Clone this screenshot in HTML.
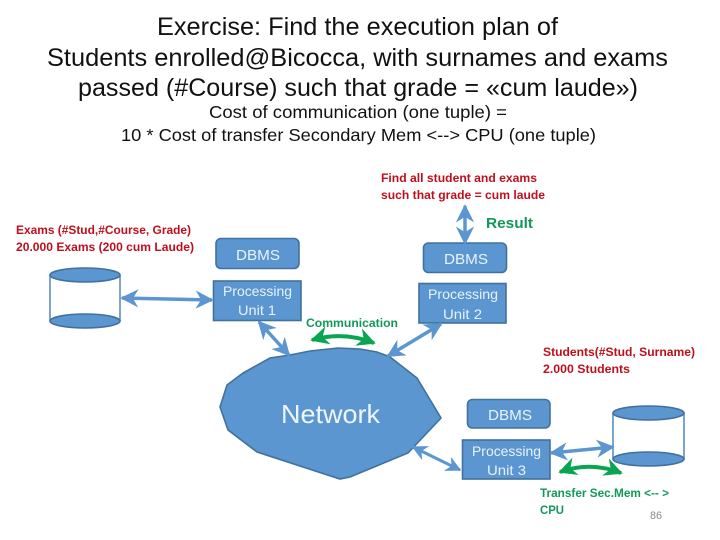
<!DOCTYPE html>
<html><head><meta charset="utf-8"><style>
html,body{margin:0;padding:0;background:#fff}
svg{display:block}
text{font-family:"Liberation Sans",sans-serif}
.t{font-size:25px;fill:#111}
.s{font-size:17.5px;fill:#111}
.r{font-size:12px;font-weight:bold;fill:#c00f1c}
.g{font-size:12px;font-weight:bold;fill:#12995a}
.w{fill:#e8f2fa;font-size:15px}
.box{fill:#5b96d0;stroke:#41719c;stroke-width:1.6}
.ar{stroke:#5b96d0;stroke-width:3.5;fill:none}
.gr{stroke:#0aa550;stroke-width:4;fill:none}
</style></head><body>
<svg width="720" height="540" viewBox="0 0 720 540" xmlns="http://www.w3.org/2000/svg">
<defs>
<marker id="b" viewBox="0 0 10 10" refX="9" refY="5" markerWidth="5.2" markerHeight="5.2" orient="auto-start-reverse" markerUnits="strokeWidth"><path d="M0,0 L10,5 L0,10 L3,5 Z" fill="#5b96d0"/></marker>
<marker id="g" viewBox="0 0 10 10" refX="9" refY="5" markerWidth="4.6" markerHeight="4.6" orient="auto-start-reverse" markerUnits="strokeWidth"><path d="M0,0 L10,5 L0,10 L3,5 Z" fill="#0aa550"/></marker>
</defs>

<text class="t" x="157" y="35" textLength="401" lengthAdjust="spacingAndGlyphs">Exercise: Find the execution plan of</text>
<text class="t" x="47" y="66" textLength="621" lengthAdjust="spacingAndGlyphs">Students enrolled@Bicocca, with surnames and exams</text>
<text class="t" x="78" y="96" textLength="560" lengthAdjust="spacingAndGlyphs">passed (#Course) such that grade = «cum laude»)</text>
<text class="s" x="209" y="118" textLength="298" lengthAdjust="spacingAndGlyphs">Cost of communication (one tuple) =</text>
<text class="s" x="121" y="141" textLength="475" lengthAdjust="spacingAndGlyphs">10 * Cost of  transfer Secondary Mem &lt;--&gt; CPU (one tuple)</text>

<text class="r" x="381" y="182" textLength="156" lengthAdjust="spacingAndGlyphs">Find all student and exams</text>
<text class="r" x="381" y="199" textLength="164" lengthAdjust="spacingAndGlyphs">such that grade = cum laude</text>
<text class="r" x="16" y="234" textLength="175" lengthAdjust="spacingAndGlyphs">Exams (#Stud,#Course, Grade)</text>
<text class="r" x="16" y="251" textLength="178" lengthAdjust="spacingAndGlyphs">20.000 Exams (200 cum Laude)</text>
<text class="r" x="543" y="356" textLength="152" lengthAdjust="spacingAndGlyphs">Students(#Stud, Surname)</text>
<text class="r" x="543" y="373" textLength="87" lengthAdjust="spacingAndGlyphs">2.000 Students</text>

<text class="g" x="486" y="228" style="font-size:14.5px" textLength="47" lengthAdjust="spacingAndGlyphs">Result</text>
<text class="g" x="306" y="327" textLength="92" lengthAdjust="spacingAndGlyphs">Communication</text>
<text class="g" x="540" y="497" textLength="129" lengthAdjust="spacingAndGlyphs">Transfer Sec.Mem &lt;-- &gt;</text>
<text class="g" x="540" y="514" textLength="24" lengthAdjust="spacingAndGlyphs">CPU</text>
<text x="650" y="519" style="font-size:11px;fill:#8a8a8a" textLength="12" lengthAdjust="spacingAndGlyphs">86</text>

<!-- Cylinder 1 -->
<path d="M50,275 V321 M120,275 V321" stroke="#5b8fc0" stroke-width="1.6" fill="none"/>
<ellipse class="box" cx="85" cy="275" rx="35" ry="7"/>
<ellipse class="box" cx="85" cy="321" rx="35" ry="7"/>
<!-- Cylinder 2 -->
<path d="M613,413 V459 M684,413 V459" stroke="#5b8fc0" stroke-width="1.6" fill="none"/>
<ellipse class="box" cx="648.500" cy="413" rx="35.500" ry="7"/>
<ellipse class="box" cx="648.500" cy="459" rx="35.500" ry="7"/>

<!-- Boxes -->
<rect class="box" x="216" y="238.500" width="83" height="30" rx="5"/>
<rect class="box" x="213.500" y="281" width="87.500" height="39.500"/>
<rect class="box" x="423.500" y="243" width="83" height="29.500" rx="5"/>
<rect class="box" x="419" y="283.500" width="87" height="39.500"/>
<rect class="box" x="467.500" y="399.500" width="82.500" height="28.500" rx="5"/>
<rect class="box" x="462.500" y="440" width="87.500" height="39"/>

<!-- Network -->
<polygon class="box" points="227,385 243,373 270,358 290,355 310,351 338,348 360,349 377,352 390,357 417,378 441,418 408,453 350,477 340,479 257,452 228,430 220,407"/>

<!-- Box labels -->
<text class="w" x="236" y="260" textLength="44" lengthAdjust="spacingAndGlyphs">DBMS</text>
<text class="w" x="223" y="296" style="font-size:14px" textLength="69" lengthAdjust="spacingAndGlyphs">Processing</text>
<text class="w" x="238" y="315" style="font-size:14px" textLength="38" lengthAdjust="spacingAndGlyphs">Unit 1</text>
<text class="w" x="444" y="264" textLength="44" lengthAdjust="spacingAndGlyphs">DBMS</text>
<text class="w" x="428" y="299" style="font-size:14px" textLength="70" lengthAdjust="spacingAndGlyphs">Processing</text>
<text class="w" x="443" y="319" style="font-size:14px" textLength="39" lengthAdjust="spacingAndGlyphs">Unit 2</text>
<text class="w" x="488" y="420" textLength="44" lengthAdjust="spacingAndGlyphs">DBMS</text>
<text class="w" x="472" y="456" style="font-size:14px" textLength="69" lengthAdjust="spacingAndGlyphs">Processing</text>
<text class="w" x="487" y="475" style="font-size:14px" textLength="39" lengthAdjust="spacingAndGlyphs">Unit 3</text>
<text x="281" y="423" style="font-size:26px;fill:#eef6fc" textLength="99" lengthAdjust="spacingAndGlyphs">Network</text>

<!-- Blue arrows -->
<line class="ar" x1="122" y1="298" x2="212" y2="300" marker-start="url(#b)" marker-end="url(#b)"/>
<line class="ar" x1="259" y1="322" x2="289" y2="355" marker-start="url(#b)" marker-end="url(#b)"/>
<line class="ar" x1="441" y1="324" x2="388" y2="356" marker-start="url(#b)" marker-end="url(#b)"/>
<line class="ar" x1="465" y1="206" x2="465" y2="243" marker-start="url(#b)" marker-end="url(#b)"/>
<line class="ar" style="stroke-width:3" x1="413" y1="447" x2="460" y2="470" marker-start="url(#b)" marker-end="url(#b)"/>
<line class="ar" x1="551" y1="453" x2="613" y2="447" marker-start="url(#b)" marker-end="url(#b)"/>

<!-- Green arrows -->
<path class="gr" d="M312,340 Q343,331 374,343" marker-start="url(#g)" marker-end="url(#g)"/>
<path class="gr" d="M560,472 Q590,461 621,473" marker-start="url(#g)" marker-end="url(#g)"/>
</svg>
</body></html>
